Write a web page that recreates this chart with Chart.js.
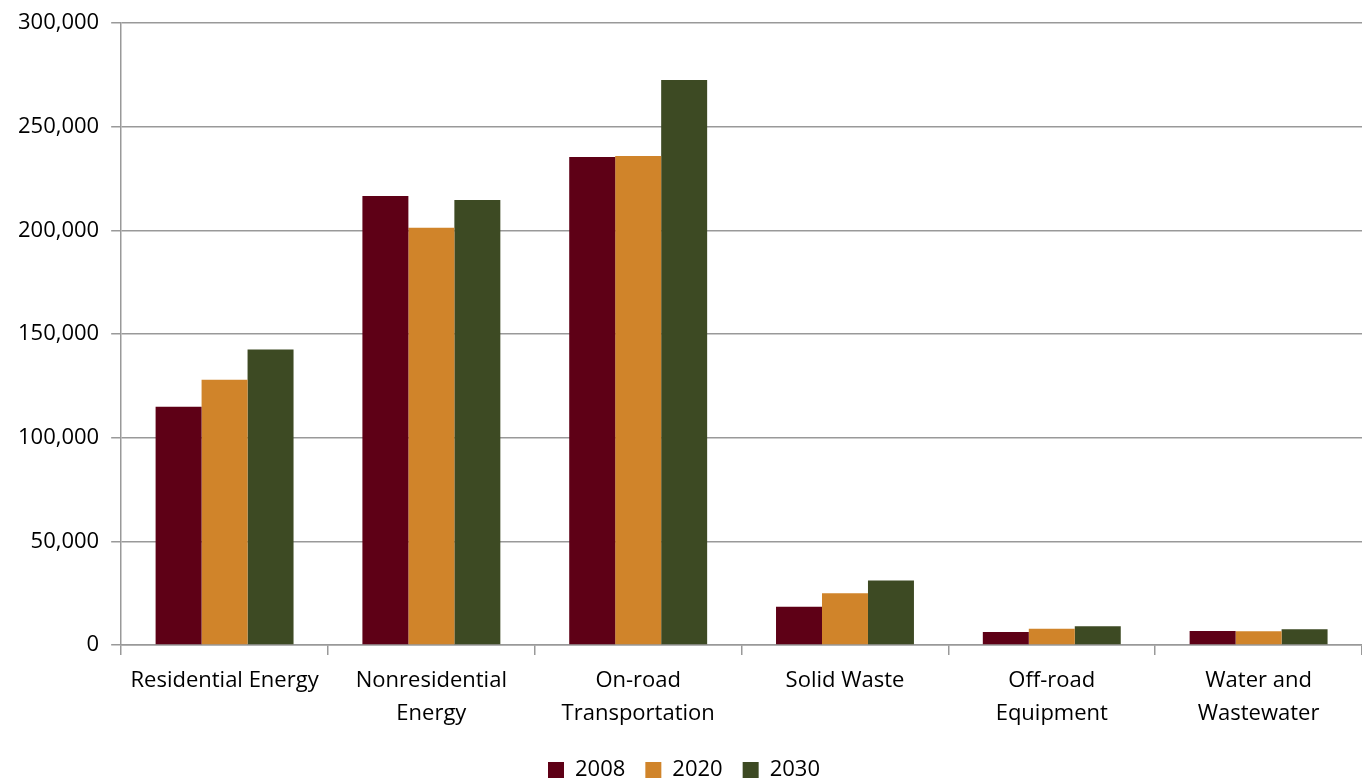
<!DOCTYPE html>
<html>
<head>
<meta charset="utf-8">
<script src="https://cdn.jsdelivr.net/npm/chart.js@4/dist/chart.umd.min.js"></script>
<style>
  html, body { margin: 0; padding: 0; background: #fff; }
  #chart { display: block; }
</style>
</head>
<body>
<canvas id="chart" width="1362" height="781"></canvas>
<script>
// emission sources (multi-line labels as arrays)
const categories = [
  'Residential Energy',
  ['Nonresidential', 'Energy'],
  ['On-road', 'Transportation'],
  'Solid Waste',
  ['Off-road', 'Equipment'],
  ['Water and', 'Wastewater']
];

const values2008 = [114900, 216500, 235400, 18400, 6250, 6700];
const values2020 = [127900, 201300, 235900, 24900, 7850, 6600];
const values2030 = [142500, 214600, 272500, 31100, 9100, 7550];

const yTicks = [0, 50000, 100000, 150000, 200000, 250000, 300000];

const FONT = "'Open Sans', 'Liberation Sans', sans-serif";
const GRID = '#999999';

Chart.defaults.font.family = FONT;
Chart.defaults.color = '#000';

const ctx = document.getElementById('chart');

const chart = new Chart(ctx, {
  type: 'bar',
  data: {
    labels: categories,
    datasets: [
      { label: '2008', data: values2008, backgroundColor: '#5e0016' },
      { label: '2020', data: values2020, backgroundColor: '#d0842a' },
      { label: '2030', data: values2030, backgroundColor: '#3d4a23' }
    ]
  },
  options: {
    responsive: false,
    animation: false,
    categoryPercentage: 0.667,
    barPercentage: 1.0,
    layout: { padding: { top: 10, right: 0, left: 6, bottom: -10 } },
    plugins: {
      tooltip: { enabled: false },
      legend: {
        position: 'bottom',
        labels: {
          boxWidth: 16,
          boxHeight: 16,
          padding: 20,
          font: { size: 22 }
        }
      }
    },
    scales: {
      x: {
        grid: {
          offset: true,
          drawOnChartArea: false,
          drawTicks: true,
          tickLength: 10,
          color: GRID,
          lineWidth: 1.5
        },
        border: { color: GRID, width: 1.5 },
        ticks: {
          font: { size: 22, lineHeight: 1.5 },
          padding: 9,
          maxRotation: 0,
          autoSkip: false
        }
      },
      y: {
        min: 0,
        max: 300000,
        afterBuildTicks: (axis) => {
          axis.ticks = yTicks.map(v => ({ value: v }));
        },
        grid: {
          color: GRID,
          lineWidth: 1.5,
          tickLength: 10
        },
        border: { color: GRID, width: 1.5 },
        ticks: {
          font: { size: 22, lineHeight: 1.0 },
          padding: 12,
          callback: (v) => v.toLocaleString('en-US')
        }
      }
    }
  }
});
</script>
</body>
</html>
